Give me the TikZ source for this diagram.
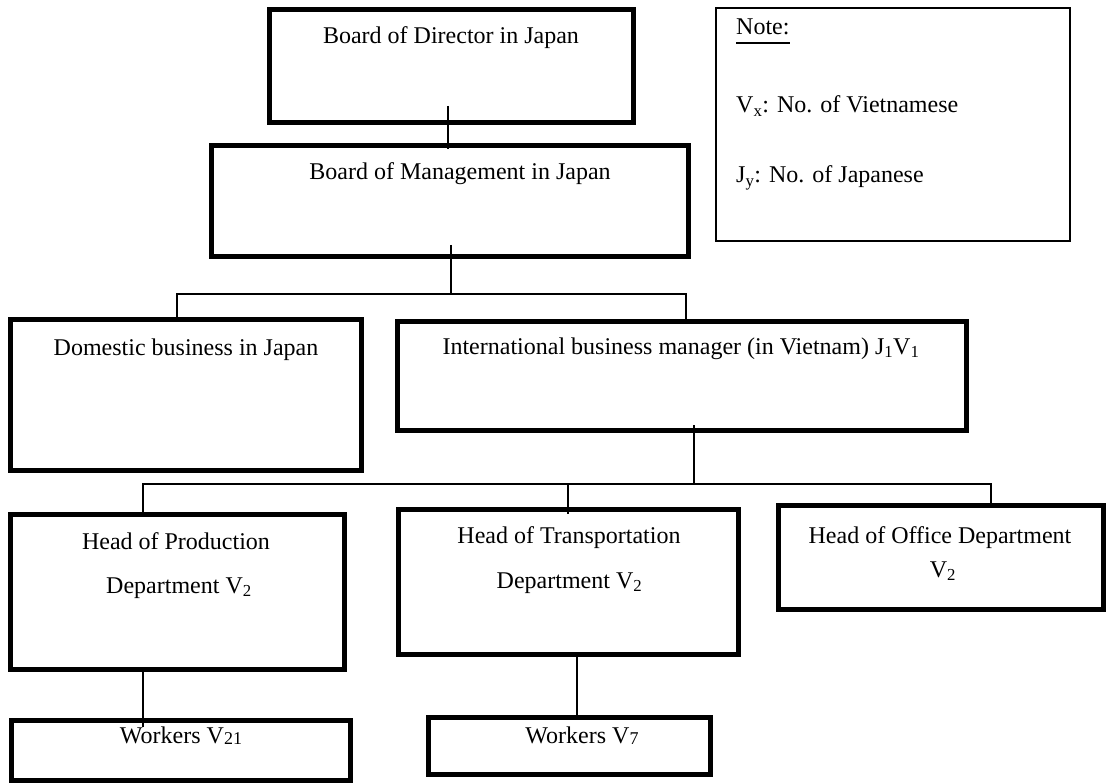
\documentclass[tikz,border=0pt]{standalone}
\usepackage{fontspec}
\setmainfont{Liberation Serif}
\usetikzlibrary{calc}
\newcommand{\boxfont}{\fontsize{24}{28}\selectfont}
\newcommand{\lowdigits}[1]{{\fontsize{18}{18}\selectfont\raisebox{-1.5pt}{#1}}}
\tikzset{
  box/.style={draw, line width=5pt, inner sep=0pt, outer sep=0pt},
  notebox/.style={draw, line width=2pt, inner sep=0pt, outer sep=0pt},
  lbl/.style={anchor=base, inner sep=0pt, font=\boxfont},
  notelbl/.style={anchor=base west, inner sep=0pt, font=\boxfont},
  conn/.style={line width=2pt},
}
\begin{document}
\begin{tikzpicture}[x=1pt,y=-1pt]
\useasboundingbox (0,0) rectangle (1107,783);

% boxes
\node[box, minimum width=364pt, minimum height=113pt] (b1) at (451.5,66) {};
\node[box, minimum width=477pt, minimum height=111pt] (b2) at (450,201) {};
\node[notebox, minimum width=354pt, minimum height=233pt] (note) at (893,124.5) {};
\node[box, minimum width=351pt, minimum height=151pt] (dom) at (186,395) {};
\node[box, minimum width=569pt, minimum height=109pt] (intl) at (682,376) {};
\node[box, minimum width=334pt, minimum height=155pt] (prod) at (177.5,592) {};
\node[box, minimum width=340pt, minimum height=145pt] (trans) at (568.5,582) {};
\node[box, minimum width=325pt, minimum height=104pt] (office) at (941,557.5) {};
\node[box, minimum width=339pt, minimum height=60pt] (wk21) at (181,750.5) {};
\node[box, minimum width=282pt, minimum height=57pt] (wk7) at (569.5,746) {};

% texts
\node[lbl] (t1) at (451,44) {Board of Director in Japan};
\node[lbl] (t2) at (460,180) {Board of Management in Japan};
\node[notelbl] (noteh) at (736,35) {Note:};
\draw[line width=1.5pt] ($(noteh.base west)+(0,8)$) -- ($(noteh.base east)+(0,8)$);
\node[notelbl] (nv) at (736,113) {V\textsubscript{x}: No. of Vietnamese};
\node[notelbl] (nj) at (736,183) {J\textsubscript{y}: No. of Japanese};
\node[lbl] (tdom) at (186,355) {Domestic business in Japan};
\node[lbl] (tintl) at (681,354) {International business manager (in Vietnam) J\textsubscript{1}V\textsubscript{1}};
\node[lbl] (tprod1) at (176,549) {Head of Production};
\node[lbl] (tprod2) at (179,593) {Department V\textsubscript{2}};
\node[lbl] (ttr1) at (569,543) {Head of Transportation};
\node[lbl] (ttr2) at (569.5,588) {Department V\textsubscript{2}};
\node[lbl] (toff1) at (940,543) {Head of Office Department};
\node[lbl] (toff2) at (943,577) {V\textsubscript{2}};
\node[lbl] (tw21) at (181,743) {Workers V\lowdigits{21}};
\node[lbl] (tw7) at (582,743) {Workers V\lowdigits{7}};

% connectors
\coordinate (bus1) at (451,294);
\coordinate (bus2) at (694,484);
\draw[conn] ($(b1.south)+(-3.5,-16.5)$) -- ($(b1.south |- b2.north)+(-3.5,3.5)$);
\draw[conn] ($(b2.south)+(1,-11.5)$) -- (bus1);
\draw[conn] ($(dom.north)+(-9,0)$) |- (bus1);
\draw[conn] (bus1) -| ($(intl.north)+(4,0)$);
\draw[conn] ($(intl.south)+(12,-5.5)$) -- (bus2);
\draw[conn] ($(prod.north)+(-34.5,0)$) |- (bus2);
\draw[conn] (bus2) -| ($(office.north)+(50,0)$);
\draw[conn] ($(trans.north)+(-0.5,4)$) -- ($(trans.north |- bus2)+(-0.5,0)$);
\draw[conn] ($(prod.south)+(-34.5,0)$) -- ($(wk21.north)+(-38,6.5)$);
\draw[conn] ($(trans.south)+(8.5,-2.5)$) -- ($(wk7.north)+(7.5,0)$);
\end{tikzpicture}
\end{document}
